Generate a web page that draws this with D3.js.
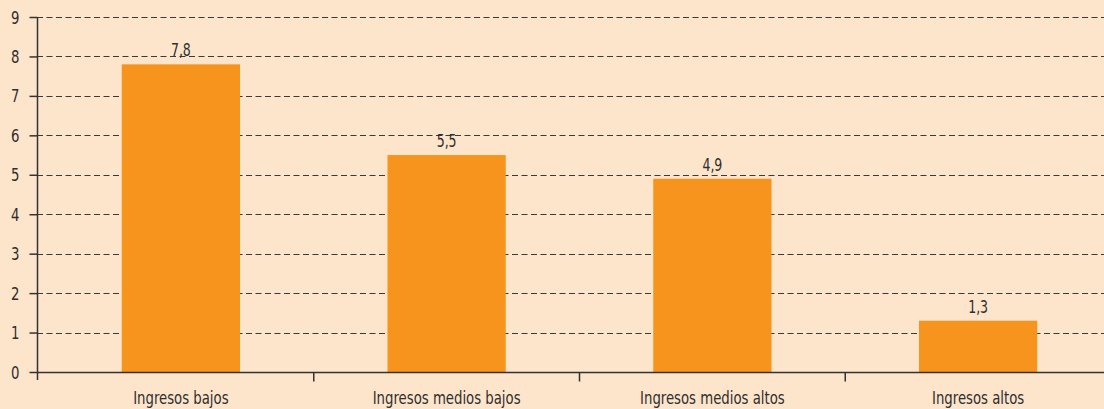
<!DOCTYPE html>
<html>
<head>
<meta charset="utf-8">
<script src="https://cdn.jsdelivr.net/npm/d3@7"></script>
<style>
  html, body { margin: 0; padding: 0; background: #fde5cc; }
  svg { display: block; }
  text { font-family: "DejaVu Sans Condensed", "DejaVu Sans", sans-serif; fill: #2e2e2e; }
</style>
</head>
<body>
<svg id="chart" width="1104" height="409"></svg>
<script>
// Share by income group
const categories = ["Ingresos bajos", "Ingresos medios bajos", "Ingresos medios altos", "Ingresos altos"];
const values = [7.8, 5.5, 4.9, 1.3];
const valueLabels = ["7,8", "5,5", "4,9", "1,3"];
const yTicks = [0, 1, 2, 3, 4, 5, 6, 7, 8, 9];

const width = 1104, height = 409;
const narrow = 0.82; // horizontal squeeze for a condensed look
const svg = d3.select("#chart");

const axisX = 37;
const y = d3.scaleLinear().domain([0, 9]).range([372, 17]);
const x = d3.scaleBand().domain(categories).range([48, 1111]).paddingInner(0.555).paddingOuter(0.2775);

// Dashed horizontal gridlines
svg.append("g")
  .selectAll("line")
  .data(yTicks.filter(d => d > 0))
  .join("line")
  .attr("x1", axisX)
  .attr("x2", width)
  .attr("y1", d => Math.round(y(d)) + 0.5)
  .attr("y2", d => Math.round(y(d)) + 0.5)
  .attr("stroke", "#3a3a3a")
  .attr("stroke-width", 1.2)
  .attr("stroke-dasharray", "6,3.5");

// Bars
svg.append("g")
  .selectAll("rect")
  .data(values)
  .join("rect")
  .attr("x", (d, i) => x(categories[i]))
  .attr("y", d => y(d))
  .attr("width", x.bandwidth())
  .attr("height", d => y(0) - y(d))
  .attr("fill", "#f7941d");

// Value labels
svg.append("g")
  .selectAll("text")
  .data(values)
  .join("text")
  .attr("transform", (d, i) => `translate(${x(categories[i]) + x.bandwidth() / 2},${y(d) - 8}) scale(${narrow},1)`)
  .attr("text-anchor", "middle")
  .attr("font-size", 17)
  .text((d, i) => valueLabels[i]);

// Y axis
const yAxis = d3.axisLeft(y).tickValues(yTicks).tickSize(8).tickPadding(0).tickFormat(d3.format("d"));
const gy = svg.append("g").attr("transform", `translate(${axisX + 0.5},0)`).call(yAxis);
gy.select(".domain").remove();
gy.append("line").attr("x1", 0).attr("x2", 0).attr("y1", y(9)).attr("y2", y(0) + 8)
  .attr("stroke", "#333").attr("stroke-width", 1.5);
gy.selectAll(".tick line").attr("stroke", "#333").attr("stroke-width", 1.5);
gy.selectAll(".tick text")
  .attr("x", null)
  .attr("dy", null)
  .attr("transform", `translate(-18,6) scale(${narrow},1)`)
  .attr("font-size", 18).attr("fill", "#2e2e2e")
  .style("font-family", "'DejaVu Sans Condensed', 'DejaVu Sans', sans-serif");

// X axis baseline with separators between groups
const gx = svg.append("g").attr("transform", `translate(0,${y(0) + 0.5})`);
gx.append("line").attr("x1", axisX).attr("x2", width).attr("y1", 0).attr("y2", 0)
  .attr("stroke", "#333").attr("stroke-width", 1.5);
const step = x.step();
const separators = categories.slice(1).map(c => x(c) - x.paddingInner() * step / 2);
gx.selectAll(".sep")
  .data(separators)
  .join("line")
  .attr("x1", d => d).attr("x2", d => d)
  .attr("y1", 0).attr("y2", 9)
  .attr("stroke", "#333").attr("stroke-width", 1.5);

// Category labels
gx.selectAll(".cat")
  .data(categories)
  .join("text")
  .attr("transform", d => `translate(${x(d) + x.bandwidth() / 2},31) scale(${narrow},1)`)
  .attr("text-anchor", "middle")
  .attr("font-size", 18)
  .text(d => d);
</script>
</body>
</html>
